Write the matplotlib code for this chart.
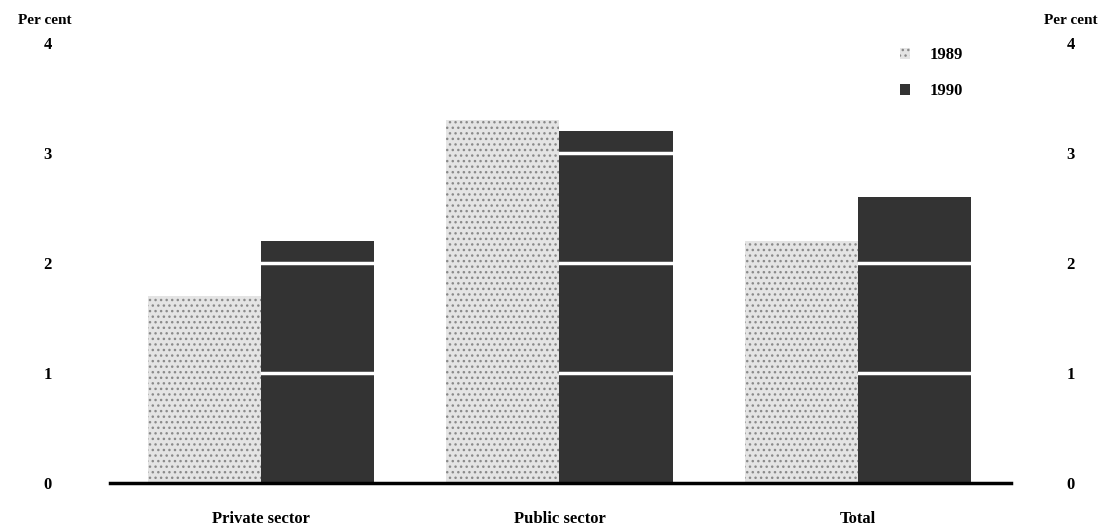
import matplotlib
matplotlib.use('Agg')
import numpy as np
import matplotlib.pyplot as plt

sectors = ['Private sector', 'Public sector', 'Total']
years = ['1989', '1990']
vals_1989 = [1.7, 3.3, 2.2]
vals_1990 = [2.2, 3.2, 2.6]
yticks = [0, 1, 2, 3, 4]

plt.rcParams['font.family'] = ['Liberation Serif', 'DejaVu Serif']
plt.rcParams['font.weight'] = 'bold'
plt.rcParams['hatch.linewidth'] = 1.0

fig = plt.figure(figsize=(11.13, 5.30), dpi=100)
ax = fig.add_axes([0.0988, 0.0887, 0.8096, 0.830])

x = np.arange(len(sectors))
w = 0.38
# 1989 sits above the white gridlines (the stipple hides them in the original)
ax.bar(x - w / 2, vals_1989, w, color='#e4e4e4', edgecolor='#8a8a8a',
       hatch='...', linewidth=0, label=years[0], zorder=4)
ax.bar(x + w / 2, vals_1990, w, color='#333333', linewidth=0,
       label=years[1], zorder=2)

# white gridlines cut through the bars
for yv in yticks[1:-1]:
    ax.axhline(yv, color='white', lw=2.5, zorder=3)

ax.set_xlim(-0.506, 2.513)
ax.set_ylim(0, 4)
ax.set_xticks(x)
ax.set_xticklabels(sectors, fontsize=12, fontweight='bold')
ax.tick_params(axis='x', length=0, pad=20)
ax.set_yticks(yticks)
ax.set_yticklabels([str(t) for t in yticks], fontsize=12, fontweight='bold')
ax.tick_params(axis='y', length=0, pad=42)

for s in ['top', 'left', 'right']:
    ax.spines[s].set_visible(False)
ax.spines['bottom'].set_linewidth(2.5)
ax.spines['bottom'].set_zorder(5)

ax2 = ax.twinx()
ax2.set_ylim(0, 4)
ax2.set_yticks(yticks)
ax2.set_yticklabels([str(t) for t in yticks], fontsize=12, fontweight='bold')
ax2.tick_params(axis='y', length=0, pad=40)
for s in ['top', 'left', 'right', 'bottom']:
    ax2.spines[s].set_visible(False)

fig.text(45 / 1113, 1 - 21 / 530, 'Per cent', ha='center', va='center',
         fontsize=11, fontweight='bold')
fig.text(1071 / 1113, 1 - 21 / 530, 'Per cent', ha='center', va='center',
         fontsize=11, fontweight='bold')

ax.legend(loc='upper left', bbox_to_anchor=(0.8086, 0.911),
          bbox_transform=fig.transFigure, frameon=False, fontsize=12,
          handlelength=0.6, handleheight=0.7, handletextpad=1.15,
          labelspacing=1.2, borderpad=0, borderaxespad=0)

fig.savefig('out.png', dpi=100)
